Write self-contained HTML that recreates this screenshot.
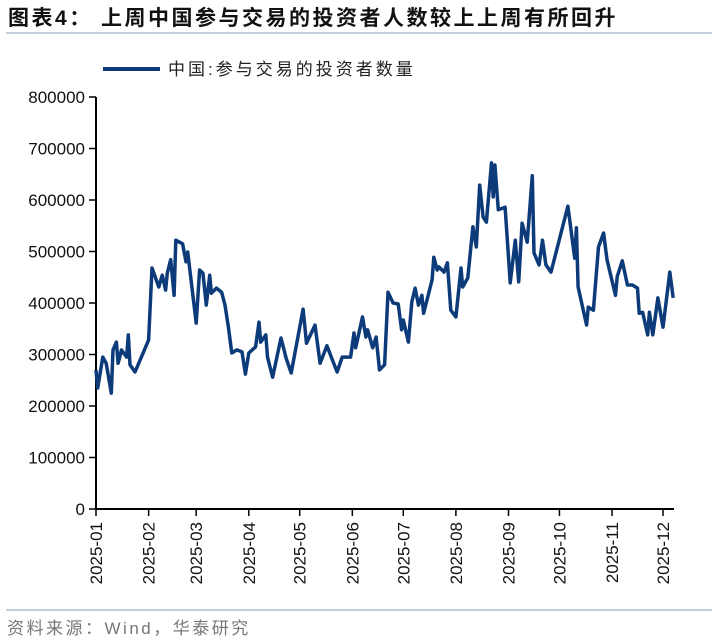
<!DOCTYPE html>
<html><head><meta charset="utf-8"><style>
body{margin:0;background:#fff;}
svg{display:block;font-family:"Liberation Sans","Noto Sans CJK SC",sans-serif;}
</style></head><body>
<svg id="chart" width="719" height="644" viewBox="0 0 719 644">
<text x="8" y="25" font-size="21" font-weight="bold" fill="#111" letter-spacing="2.5">图表<tspan font-family="Liberation Sans">4</tspan>：  上周中国参与交易的投资者人数较上上周有所回升</text>
<line x1="6" y1="33" x2="712" y2="33" stroke="#9fb3c8" stroke-width="1.2"/>
<g>
<line x1="103" y1="69" x2="160" y2="69" stroke="#0d3b7a" stroke-width="4"/>
<text x="168" y="75" font-size="17" fill="#222" letter-spacing="3">中国:参与交易的投资者数量</text>
</g>
<g id="axes"></g>
<path id="line" fill="none" stroke="#0d3b7a" stroke-width="3.5" stroke-linejoin="round"/>
<line x1="6" y1="610" x2="712" y2="610" stroke="#9fb3c8" stroke-width="1.2"/>
<text x="7" y="634" font-size="17" fill="#777" letter-spacing="2.5">资料来源：Wind，华泰研究</text>
</svg>
<script>
const days=[0,1,4,6,9,10,12,13,15,18,19,20,23,31,33,37,39,41,42,44,46,47,51,53,54,59,61,63,65,67,68,71,74,76,78,80,83,86,88,90,94,96,97,100,101,104,109,112,115,122,124,129,132,136,142,145,150,152,153,157,159,160,163,165,167,170,172,175,178,180,181,184,186,188,190,192,193,198,199,201,202,205,207,209,212,215,216,219,222,224,226,228,230,233,234,235,237,241,243,244,247,249,251,254,257,258,261,263,265,268,278,282,283,284,289,290,293,296,299,301,306,307,310,313,316,319,320,322,325,326,328,331,334,338,340];
const values=[270,235,295,283,225,309,324,283,309,295,338,280,266,328,468,431,454,425,458,484,415,522,515,480,499,361,464,458,396,454,419,429,421,396,353,303,309,305,262,303,315,363,324,338,295,256,332,293,264,388,322,357,283,317,266,295,295,342,313,373,334,348,313,334,270,280,421,400,398,348,367,324,402,429,396,415,380,445,489,464,470,460,478,386,373,468,431,449,548,509,629,567,557,672,606,668,581,586,489,439,522,441,555,518,647,497,474,522,474,460,588,487,546,431,357,392,386,509,536,484,415,451,482,435,435,429,380,382,338,382,338,410,353,460,410].map(v=>v*1000);
const yTicks=[0,100000,200000,300000,400000,500000,600000,700000,800000];
const xTickLabels=["2025-01","2025-02","2025-03","2025-04","2025-05","2025-06","2025-07","2025-08","2025-09","2025-10","2025-11","2025-12"];
const xTickDays=[0,31,59,90,120,151,181,212,243,273,304,334];
const X0=96,X1=663,Y0=509,Y1=97;
const xs=d=>X0+d/334*(X1-X0);
const ys=v=>Y0-v/800000*(Y0-Y1);
const NS="http://www.w3.org/2000/svg";
const ax=document.getElementById('axes');
function mk(t,a){const e=document.createElementNS(NS,t);for(const k in a)e.setAttribute(k,a[k]);ax.appendChild(e);return e;}
let e=mk('line',{x1:X0,y1:Y1,x2:X0,y2:Y0,stroke:'#000','stroke-width':2});


e=mk('line',{x1:X0,y1:Y0,x2:674,y2:Y0,stroke:'#000','stroke-width':2});


yTicks.forEach(v=>{
 const t=mk('line',{x1:X0-7,y1:ys(v),x2:X0,y2:ys(v),stroke:'#000','stroke-width':1.5});
 
 
 const l=mk('text',{x:X0-11,y:ys(v)+6,'font-size':17,'text-anchor':'end',fill:'#111'});
 l.textContent=v;
 
 
});
xTickDays.forEach((d,i)=>{
 const x=xs(d);
 const t=mk('line',{x1:x,y1:Y0,x2:x,y2:Y0+7,stroke:'#000','stroke-width':1.5});
 
 
 const l=mk('text',{x:0,y:0,'font-size':17,'text-anchor':'end',fill:'#111',transform:`translate(${x+6},${Y0+13}) rotate(-90)`});
 l.textContent=xTickLabels[i];
 
 
});
document.getElementById('line').setAttribute('d',days.map((d,i)=>(i?'L':'M')+xs(d).toFixed(1)+','+ys(values[i]).toFixed(1)).join(''));
</script>
</body></html>
